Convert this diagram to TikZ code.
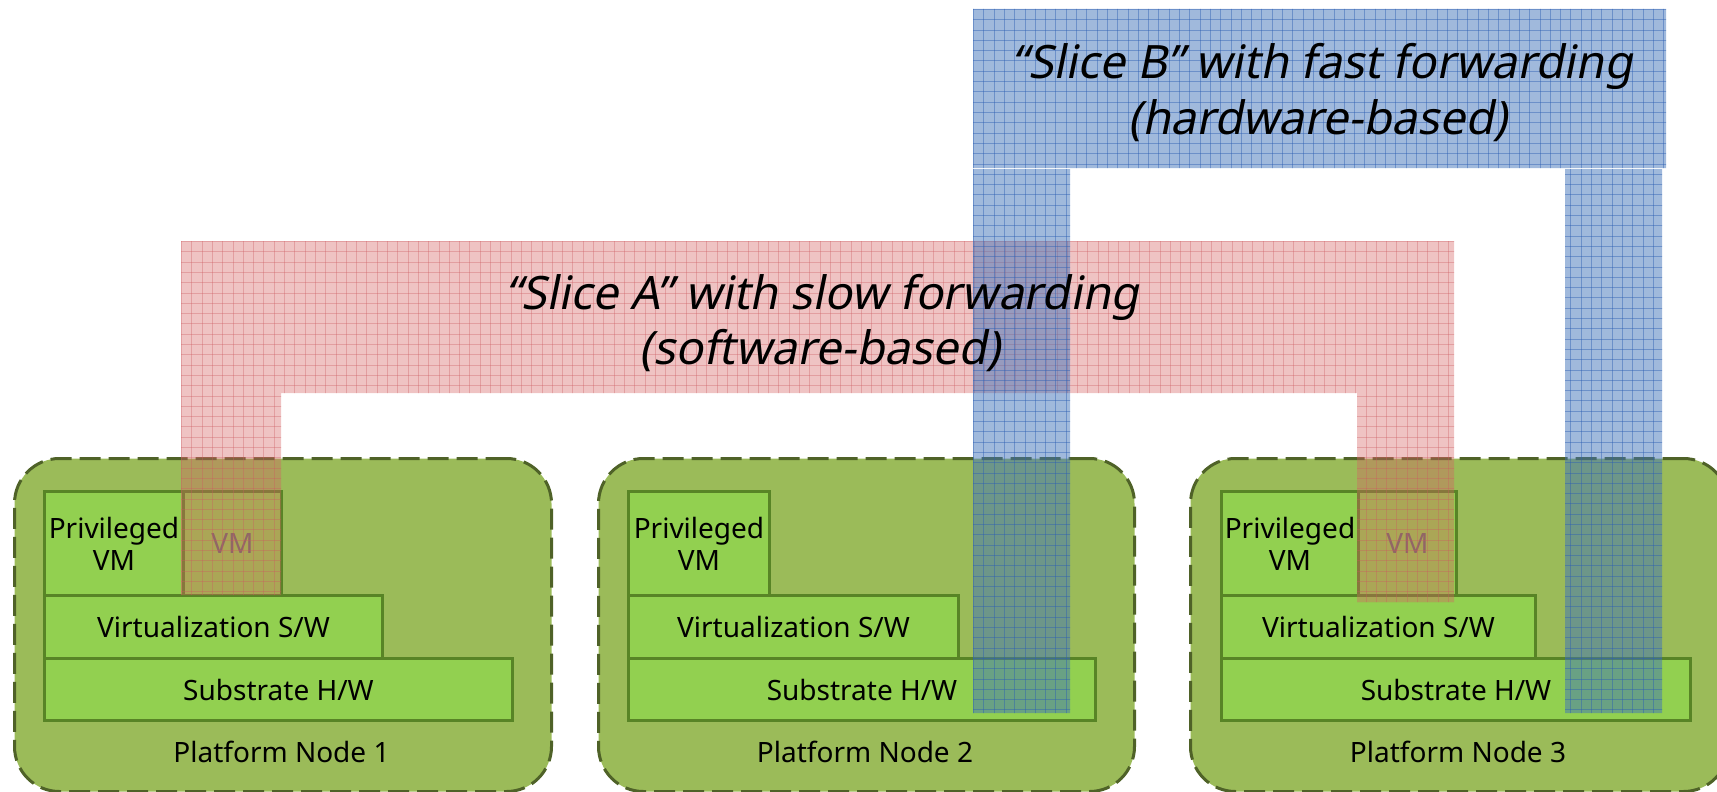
\documentclass[tikz,border=0pt]{standalone}
\usepackage{fontspec}
\setmainfont{Noto Sans}
\newfontfamily\slicefont[FakeSlant=0.2]{Noto Sans}

\definecolor{platformfill}{RGB}{155,187,89}
\definecolor{platformedge}{RGB}{79,98,40}
\definecolor{layerfill}{RGB}{146,208,80}
\definecolor{layeredge}{RGB}{88,132,38}
\definecolor{guesttext}{RGB}{105,105,105}
\definecolor{slicea}{RGB}{212,98,98}
\definecolor{sliceagrid}{RGB}{205,90,95}
\definecolor{sliceb}{RGB}{65,115,185}
\definecolor{slicebgrid}{RGB}{45,95,180}

\tikzset{
  platform/.style={draw=platformedge, fill=platformfill, line width=3pt,
    dash pattern=on 21pt off 8pt, rounded corners=45pt,
    anchor=north west, inner sep=0pt},
  layer/.style={draw=layeredge, fill=layerfill, line width=3pt,
    anchor=north west, inner sep=0pt, align=center,
    font=\fontsize{28}{32}\selectfont},
  guest/.style={layer, text=guesttext},
  caption/.style={anchor=base, inner sep=0pt, font=\fontsize{28}{32}\selectfont},
  slicetext/.style={anchor=base, inner sep=0pt, font=\slicefont\fontsize{46}{56}\selectfont},
  sliceAtint/.style={fill=slicea, opacity=0.38},
  sliceAline/.style={draw=sliceagrid, line width=1pt, opacity=0.35},
  sliceBtint/.style={fill=sliceb, opacity=0.5},
  sliceBline/.style={draw=slicebgrid, line width=1pt, opacity=0.45},
}

\begin{document}
\begin{tikzpicture}[x=1pt,y=-1pt]
\useasboundingbox (0,0) rectangle (1717,792);

% ---- Platform Node 1 ----
\node[platform, minimum width=537pt, minimum height=333pt] (n1) at (13,457) {};
\node[layer, minimum width=468pt, minimum height=62pt] (n1sub) at (43,657) {Substrate H/W};
\node[layer, minimum width=338pt, minimum height=63pt] (n1virt) at (43,594) {Virtualization S/W};
\node[layer, minimum width=139pt, minimum height=104pt] (n1priv) at (43,490) {Privileged\\VM};
\node[guest, minimum width=98pt, minimum height=104pt] (n1vm) at (182,490) {VM};
\node[caption] (n1cap) at (281.5,762) {Platform Node 1};

% ---- Platform Node 2 ----
\node[platform, minimum width=536pt, minimum height=333pt] (n2) at (597,457) {};
\node[layer, minimum width=467pt, minimum height=62pt] (n2sub) at (627,657) {Substrate H/W};
\node[layer, minimum width=330pt, minimum height=63pt] (n2virt) at (627,594) {Virtualization S/W};
\node[layer, minimum width=141pt, minimum height=104pt] (n2priv) at (627,490) {Privileged\\VM};
\node[caption] (n2cap) at (865,762) {Platform Node 2};

% ---- Platform Node 3 ----
\node[platform, minimum width=538pt, minimum height=333pt] (n3) at (1189,457) {};
\node[layer, minimum width=469pt, minimum height=62pt] (n3sub) at (1220,657) {Substrate H/W};
\node[layer, minimum width=314pt, minimum height=63pt] (n3virt) at (1220,594) {Virtualization S/W};
\node[layer, minimum width=137pt, minimum height=104pt] (n3priv) at (1220,490) {Privileged\\VM};
\node[guest, minimum width=98pt, minimum height=104pt] (n3vm) at (1357,490) {VM};
\node[caption] (n3cap) at (1458,762) {Platform Node 3};

% ---- Slice A: software forwarding band and its two legs ----
\begin{scope}
  \clip (181,241) -- (1454,241) -- (1454,602) -- (1357,602) -- (1357,393)
        -- (281,393) -- (281,595) -- (181,595) -- cycle;
  \path[sliceAtint] (0,0) rectangle (1717,792);
  \foreach \gx in {181.5,191.8,...,1460} \path[sliceAline] (\gx,230) -- (\gx,610);
  \foreach \gy in {241.5,251.8,...,610} \path[sliceAline] (170,\gy) -- (1460,\gy);
\end{scope}

% ---- Slice B: hardware forwarding band and its two legs ----
\begin{scope}
  \clip (973,9) rectangle (1666,168)
        (973,169) rectangle (1070,713)
        (1565,169) rectangle (1662,713);
  \path[sliceBtint] (0,0) rectangle (1717,792);
  \foreach \gx in {973.5,983.8,...,1670} \path[sliceBline] (\gx,0) -- (\gx,720);
  \foreach \gy in {9.5,19.8,...,720} \path[sliceBline] (960,\gy) -- (1670,\gy);
\end{scope}

% ---- Slice captions ----
\node[slicetext] (sAtitle) at (822,309) {“Slice A” with slow forwarding};
\node[slicetext] (sAsub) at (820,364) {(software-based)};
\node[slicetext] (sBtitle) at (1322,78) {“Slice B” with fast forwarding};
\node[slicetext] (sBsub) at (1318,134) {(hardware-based)};
\end{tikzpicture}
\end{document}
